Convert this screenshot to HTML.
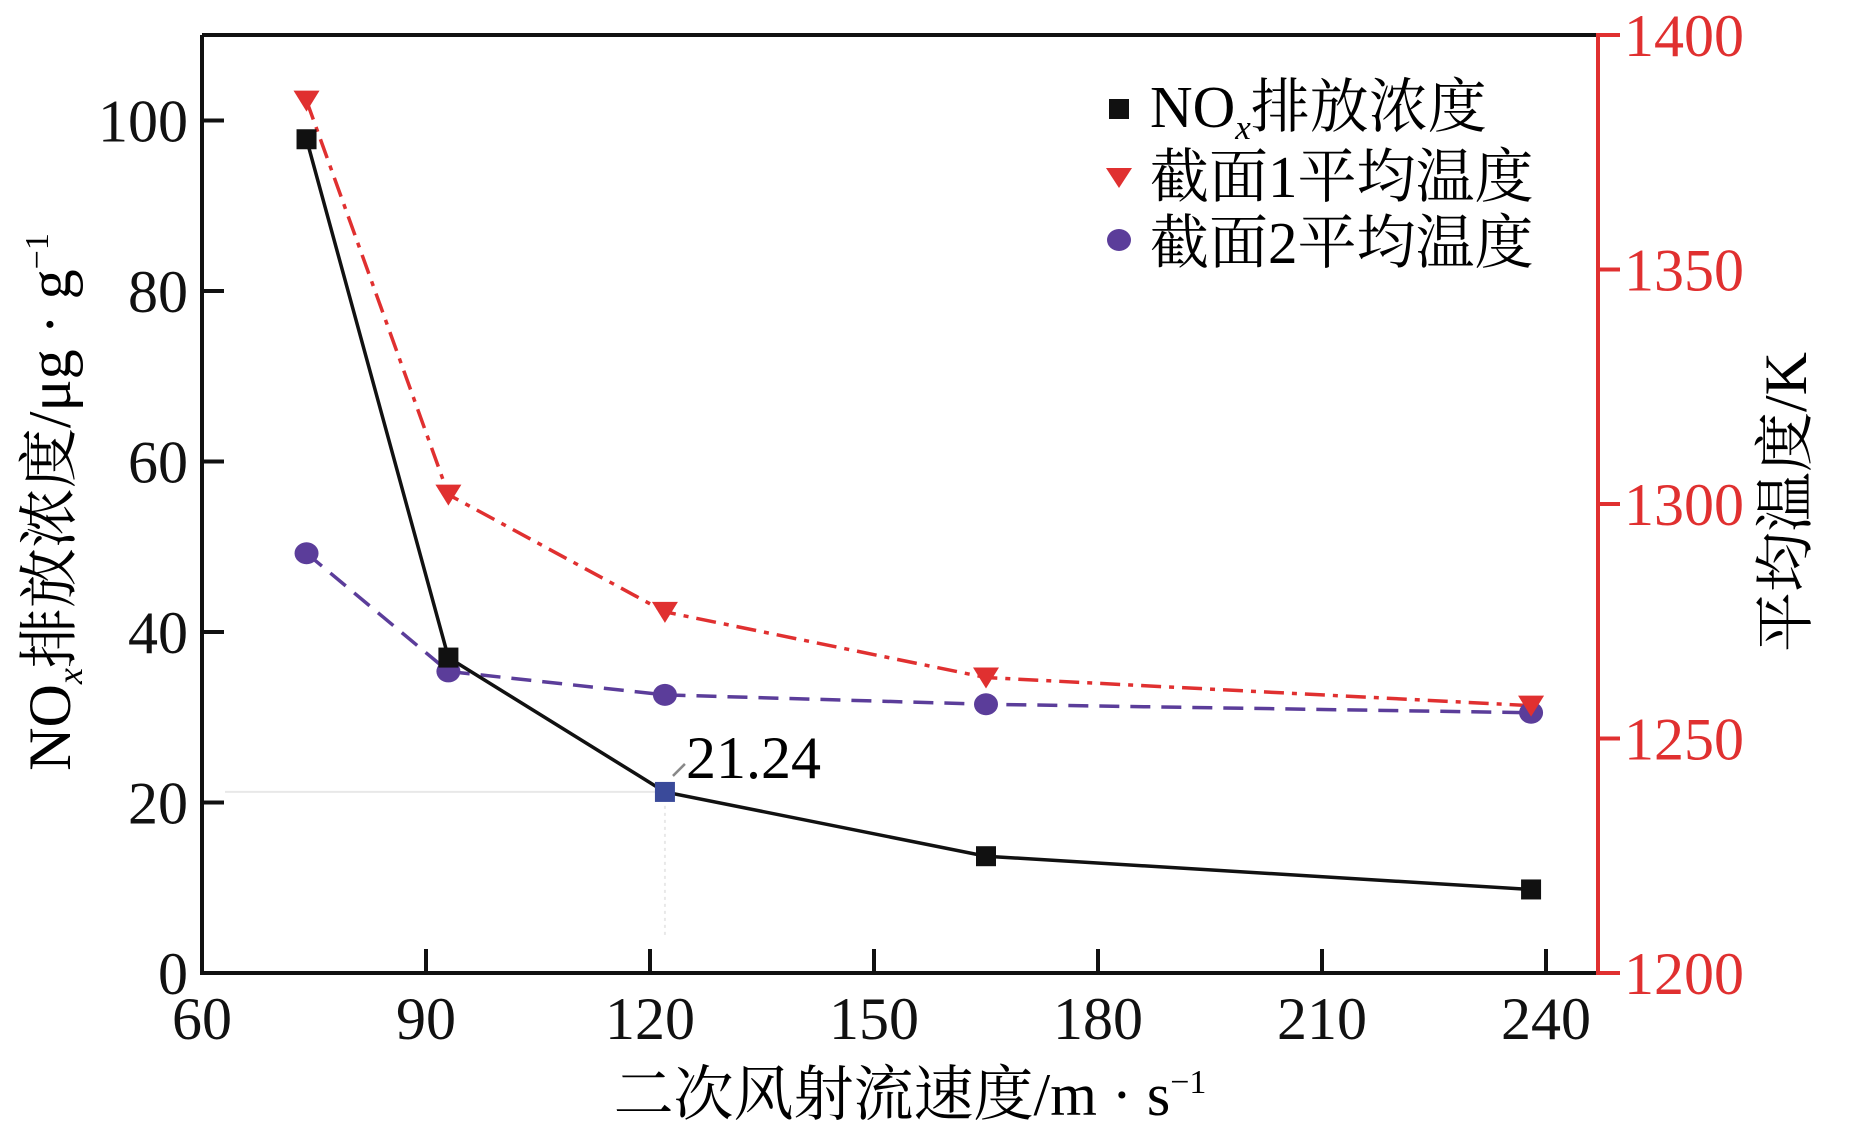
<!DOCTYPE html>
<html><head><meta charset="utf-8"><style>
html,body{margin:0;padding:0;background:#fff;}
svg{display:block;}
text{font-family:"Liberation Serif","Noto Serif CJK SC",serif;}
</style></head><body>
<svg id="chart" width="1850" height="1130" viewBox="0 0 1850 1130" xmlns="http://www.w3.org/2000/svg">
<g id="grid"></g>
<g id="axes"></g>
<g id="series"></g>
<g id="legend">
  <rect x="1109" y="99" width="20" height="20" fill="#111"/>
  <text x="1150" y="127" font-size="59">NO<tspan font-size="35" font-style="italic" dy="12">x</tspan><tspan dy="-12">排放浓度</tspan></text>
  <path d="M1106,168 L1132,168 L1119,188 Z" fill="#e03030"/>
  <text x="1150" y="197" font-size="59">截面1平均温度</text>
  <ellipse cx="1119" cy="240" rx="12" ry="11" fill="#5b3d9a"/>
  <text x="1150" y="263" font-size="59">截面2平均温度</text>
</g>
<text transform="translate(70,502) rotate(-90)" text-anchor="middle" font-size="60">NO<tspan font-size="36" font-style="italic" dy="12">x</tspan><tspan dy="-12">排放浓度/μg · g</tspan><tspan font-size="34" dy="-22">−1</tspan></text>
<text transform="translate(1806,502) rotate(-90)" text-anchor="middle" font-size="60">平均温度/K</text>
<text x="910" y="1115" text-anchor="middle" font-size="60">二次风射流速度/m · s<tspan font-size="34" dy="-22">−1</tspan></text>
<text x="686" y="778" font-size="60">21.24</text>
</svg>
<script>
const xVals = [74, 93, 122, 165, 238];
const noxVals = [97.8, 37, 21.24, 13.7, 9.8];
const sec1Temps = [1386, 1302, 1277, 1263, 1257];
const sec2Temps = [1289.5, 1264.3, 1259.3, 1257.3, 1255.5];
const xTicks = [60, 90, 120, 150, 180, 210, 240];
const yLeftTicks = [0, 20, 40, 60, 80, 100];
const yRightTicks = [1200, 1250, 1300, 1350, 1400];

const X0 = 202, X1 = 1598, Y0 = 973, YT = 35;
const sx = v => X0 + (v - 60) / 30 * 224;
const syL = v => Y0 - v * 8.525;
const syR = v => Y0 - (v - 1200) / 200 * (Y0 - YT);
const NS = 'http://www.w3.org/2000/svg';
function mk(tag, parent, attrs) {
  const e = document.createElementNS(NS, tag);
  for (const k in attrs) e.setAttribute(k, attrs[k]);
  parent.appendChild(e);
  return e;
}
const axesG = document.getElementById('axes');
const seriesG = document.getElementById('series');
const gridG = document.getElementById('grid');

let g1 = mk('line', gridG, {x1: 225, y1: syL(noxVals[2]), x2: sx(xVals[2]), y2: syL(noxVals[2]), stroke: '#e8e8e8', 'stroke-width': 2});


let g2 = mk('line', gridG, {x1: sx(xVals[2]), y1: syL(noxVals[2]), x2: sx(xVals[2]), y2: 935, stroke: '#e8e8e8', 'stroke-width': 2, 'stroke-dasharray': '3 4'});



let frameTop = mk('line', axesG, {x1: X0, y1: YT, x2: X1, y2: YT, stroke: '#111', 'stroke-width': 4});


let axisL = mk('line', axesG, {x1: X0, y1: YT, x2: X0, y2: Y0 + 2, stroke: '#111', 'stroke-width': 4});


let axisB = mk('line', axesG, {x1: X0, y1: Y0, x2: X1, y2: Y0, stroke: '#111', 'stroke-width': 4});


let axisR = mk('line', axesG, {x1: X1, y1: YT, x2: X1, y2: Y0 + 2, stroke: '#e03030', 'stroke-width': 4});



xTicks.forEach(v => {
  const x = sx(v);
  let t = mk('line', axesG, {x1: x, y1: Y0, x2: x, y2: Y0 - 24, stroke: '#111', 'stroke-width': 4});
  
  
  let l = mk('text', axesG, {x: x, y: Y0 + 66, 'text-anchor': 'middle', 'font-size': 60, fill: '#111'});
  l.textContent = v;
  
  
});
yLeftTicks.forEach(v => {
  const y = syL(v);
  let t = mk('line', axesG, {x1: X0, y1: y, x2: X0 + 22, y2: y, stroke: '#111', 'stroke-width': 4});
  
  
  let l = mk('text', axesG, {x: X0 - 14, y: y + 21, 'text-anchor': 'end', 'font-size': 60, fill: '#111'});
  l.textContent = v;
  
  
});
yRightTicks.forEach(v => {
  const y = syR(v);
  let t = mk('line', axesG, {x1: X1 - 2, y1: y, x2: X1 + 22, y2: y, stroke: '#e03030', 'stroke-width': 4});
  
  
  let l = mk('text', axesG, {x: X1 + 26, y: y + 21, 'font-size': 60, fill: '#e03030'});
  l.textContent = v;
  
  
});

const pts = (ys, f) => xVals.map((x, i) => sx(x) + ',' + f(ys[i])).join(' ');
let l2 = mk('polyline', seriesG, {points: pts(sec2Temps, syR), fill: 'none', stroke: '#5b3d9a', 'stroke-width': 3.5, 'stroke-dasharray': '20 11'});


let l1 = mk('polyline', seriesG, {points: pts(sec1Temps, syR), fill: 'none', stroke: '#e03030', 'stroke-width': 3.5, 'stroke-dasharray': '20 8 5 8'});


let l0 = mk('polyline', seriesG, {points: pts(noxVals, syL), fill: 'none', stroke: '#111', 'stroke-width': 3.5});



let conn = mk('line', seriesG, {x1: sx(xVals[2]) + 8, y1: syL(noxVals[2]) - 16, x2: sx(xVals[2]) + 20, y2: syL(noxVals[2]) - 28, stroke: '#888', 'stroke-width': 2.5});



xVals.forEach((x, i) => {
  let c = mk('ellipse', seriesG, {cx: sx(x), cy: syR(sec2Temps[i]), rx: 12, ry: 11, fill: '#5b3d9a'});
  
  
  const px = sx(x), py = syR(sec1Temps[i]);
  let t = mk('path', seriesG, {d: `M${px - 13},${py - 10} L${px + 13},${py - 10} L${px},${py + 11} Z`, fill: '#e03030'});
  
  
  let s = mk('rect', seriesG, {x: sx(x) - 10, y: syL(noxVals[i]) - 10, width: 20, height: 20, fill: i === 2 ? '#3a4a9a' : '#111'});
  
  
});
</script>
</body></html>
